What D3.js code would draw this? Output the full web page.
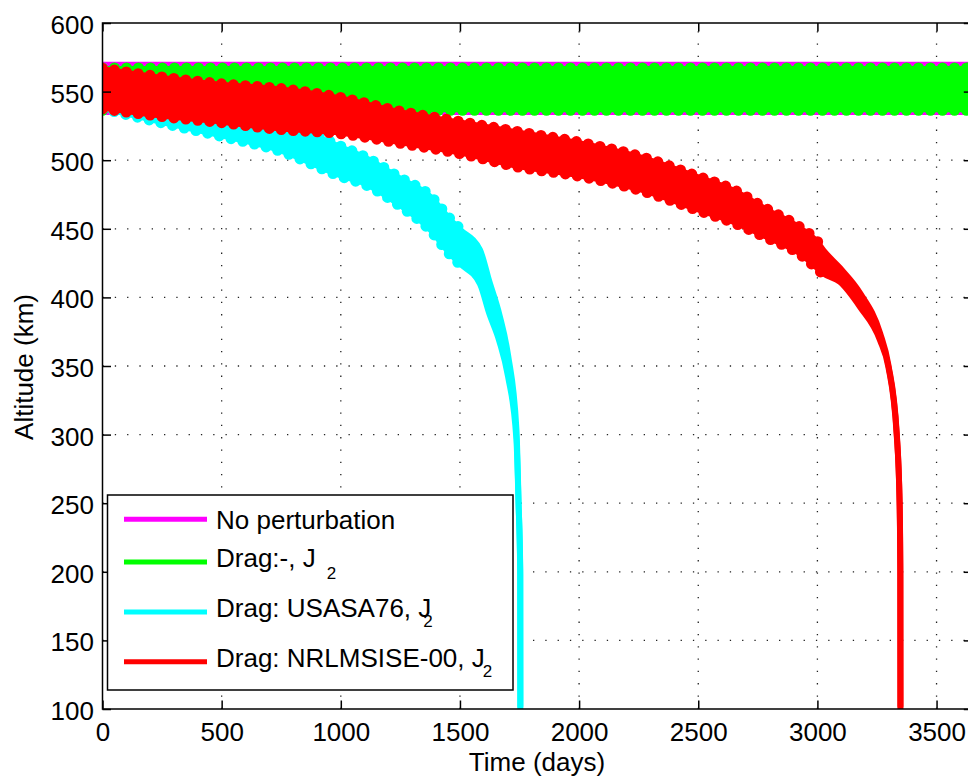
<!DOCTYPE html>
<html>
<head>
<script src="https://d3js.org/d3.v7.min.js"></script>
<style>
  body { margin: 0; background: #fff; }
  svg { display: block; font-family: "Liberation Sans", Arial, sans-serif; }
</style>
</head>
<body>
<div id="chart"></div>
<script>
// tick values
const xTicks = [0, 500, 1000, 1500, 2000, 2500, 3000, 3500];
const yTicks = [100, 150, 200, 250, 300, 350, 400, 450, 500, 550, 600];

// each run oscillates fast, so it is kept as the outer envelope (km)
const noPertT = [0, 3650];
const noPertHi = [571.8, 571.8];
const noPertLo = [533, 533];

const j2T = [0, 3650];
const j2Hi = [571.3, 571.3];
const j2Lo = [532.4, 532.4];

const usaT = [0, 250, 500, 750, 1000, 1100, 1250, 1375, 1458, 1500, 1584, 1623, 1665, 1702, 1737, 1746, 1753, 1753.5];
const usaHi = [571, 552.6, 543.9, 533, 514.2, 506.7, 491.2, 478.2, 461.5, 454.2, 436.8, 414, 390, 360, 306, 253, 200, 100];
const usaLo = [533.5, 523.1, 513.3, 502.3, 484.1, 478.3, 462.3, 444.8, 427.3, 420, 407.6, 386, 366, 340, 294, 247, 200, 100];

const nrlT = [0, 250, 500, 750, 1000, 1250, 1500, 1750, 2000, 2250, 2500, 2647, 2787, 2927, 2997, 3025, 3095, 3179, 3263, 3298, 3333, 3345, 3348, 3348.5];
const nrlHi = [571, 564.7, 559.7, 556.2, 549.7, 539.7, 532.2, 524.7, 517.2, 507.2, 492.2, 482.7, 468.6, 455.2, 445.5, 439, 423.6, 405.4, 376.2, 353, 303, 251, 199, 100];
const nrlLo = [533.5, 527.8, 523.3, 518.3, 515.3, 508.3, 500.8, 490.8, 484.3, 474.3, 459.3, 450.4, 439.4, 427.3, 417, 412.7, 409, 390.8, 366.5, 347, 297, 249, 199, 100];

const legendNames = ["No perturbation", "Drag:-, J", "Drag: USASA76, J", "Drag: NRLMSISE-00, J"];
const legendSubs = ["", "2", "2", "2"];
const colors = ["#ff00ff", "#00ff00", "#00ffff", "#ff0000"];

const W = 968, H = 778;
const margin = { left: 102.5, top: 23, right: 972.3, bottom: 709 };

const svg = d3.select("#chart").append("svg")
    .attr("width", W)
    .attr("height", H);

const x = d3.scaleLinear().domain([0, 3650]).range([margin.left, margin.right]);
const y = d3.scaleLinear().domain([100, 600]).range([margin.bottom, margin.top]);

svg.append("clipPath").attr("id", "clip")
    .append("rect")
    .attr("x", margin.left).attr("y", margin.top)
    .attr("width", margin.right - margin.left)
    .attr("height", margin.bottom - margin.top);

// dotted grid
const grid = svg.append("g").attr("stroke", "#222").attr("stroke-width", 1.3)
    .attr("stroke-dasharray", "1.3,11");
grid.selectAll("line.gx").data(xTicks.filter(d => d > 0)).enter().append("line")
    .attr("x1", d => x(d)).attr("x2", d => x(d))
    .attr("y1", margin.bottom).attr("y2", margin.top);
grid.selectAll("line.gy").data(yTicks.filter(d => d > 100 && d < 600)).enter().append("line")
    .attr("y1", d => y(d)).attr("y2", d => y(d))
    .attr("x1", margin.left).attr("x2", margin.right);

const plot = svg.append("g").attr("clip-path", "url(#clip)");

function drawSeries(T, Hi, Lo, color, scallop) {
    const pts = T.map((t, i) => ({ t: t, hi: Hi[i], lo: Lo[i] }));
    const band = d => y(d.lo) - y(d.hi);
    // local steepness of the envelope, in pixels
    pts.forEach((d, i) => {
        const a = pts[Math.max(i - 1, 0)], b = pts[Math.min(i + 1, pts.length - 1)];
        const dx = Math.max(x(b.t) - x(a.t), 0.001);
        d.steep = Math.max(Math.abs(y(b.hi) - y(a.hi)), Math.abs(y(b.lo) - y(a.lo))) / dx;
        d.sc = scallop && band(d) > 28 && d.steep < 1.5;
    });
    const r = 5.5, inset = d => d.sc ? 3.5 : 0;
    const top = d => y(d.hi) + inset(d) + 3;
    const bot = d => y(d.lo) - inset(d) - 3;
    const g = plot.append("g");

    g.append("path").datum(pts)
        .attr("fill", color)
        .attr("d", d3.area().curve(d3.curveMonotoneX).x(d => x(d.t)).y0(bot).y1(top));

    [top, bot].forEach(f => {
        g.append("path").datum(pts)
            .attr("fill", "none")
            .attr("stroke", color)
            .attr("stroke-width", 6)
            .attr("stroke-linejoin", "round")
            .attr("stroke-linecap", "round")
            .attr("d", d3.line().curve(d3.curveMonotoneX).x(d => x(d.t)).y(f));
    });

    if (!scallop) return;
    // the bumpy edges left by the thick oscillating line
    [d => y(d.hi) + r, d => y(d.lo) - r].forEach(f => {
        g.append("path").datum(pts)
            .attr("fill", "none")
            .attr("stroke", color)
            .attr("stroke-width", 2 * r)
            .attr("stroke-linecap", "round")
            .attr("stroke-dasharray", "0,12")
            .attr("d", d3.line().defined(d => d.sc).curve(d3.curveMonotoneX)
                .x(d => x(d.t)).y(f));
    });
}

drawSeries(noPertT, noPertHi, noPertLo, colors[0], false);
drawSeries(j2T, j2Hi, j2Lo, colors[1], true);
drawSeries(usaT, usaHi, usaLo, colors[2], true);
drawSeries(nrlT, nrlHi, nrlLo, colors[3], true);

// axes, ticks pointing inwards
const tickLen = 8.5;
const fmt = d3.format("d");
const xAxis = svg.append("g")
    .attr("transform", `translate(0,${margin.bottom})`)
    .call(d3.axisBottom(x).tickValues(xTicks).tickFormat(fmt)
        .tickSizeInner(-tickLen).tickSizeOuter(0).tickPadding(14));
const yAxis = svg.append("g")
    .attr("transform", `translate(${margin.left},0)`)
    .call(d3.axisLeft(y).tickValues(yTicks).tickFormat(fmt)
        .tickSizeInner(-tickLen).tickSizeOuter(0).tickPadding(8.5));
const xTop = svg.append("g")
    .attr("transform", `translate(0,${margin.top})`)
    .call(d3.axisTop(x).tickValues(xTicks).tickSizeInner(-tickLen).tickSizeOuter(0).tickFormat(""));
const yRight = svg.append("g")
    .attr("transform", `translate(${margin.right},0)`)
    .call(d3.axisRight(y).tickValues(yTicks).tickSizeInner(-tickLen).tickSizeOuter(0).tickFormat(""));

[xAxis, yAxis, xTop, yRight].forEach(a => {
    a.select(".domain").remove();
    a.selectAll(".tick line").attr("stroke", "#000").attr("stroke-width", 1.5);
    a.selectAll("text").attr("fill", "#000").style("font-size", "26px")
        .style("font-family", "'Liberation Sans', Arial, sans-serif");
});
yAxis.selectAll("text").attr("dy", "0.4em");

svg.append("rect")
    .attr("x", margin.left).attr("y", margin.top)
    .attr("width", margin.right - margin.left)
    .attr("height", margin.bottom - margin.top)
    .attr("fill", "none").attr("stroke", "#000").attr("stroke-width", 1.5);

// axis titles
svg.append("text")
    .attr("x", 537).attr("y", 771)
    .attr("text-anchor", "middle")
    .style("font-size", "26px")
    .text("Time (days)");

svg.append("text")
    .attr("transform", "translate(33,367) rotate(-90)")
    .attr("text-anchor", "middle")
    .style("font-size", "26px")
    .text("Altitude (km)");

// legend
const legend = svg.append("g");
legend.append("rect")
    .attr("x", 107.5).attr("y", 495)
    .attr("width", 405.5).attr("height", 195)
    .attr("fill", "#fff").attr("stroke", "#000").attr("stroke-width", 1.5);

const rowLine = [519.3, 562, 612, 661.7];
const rowBase = [528.7, 567.3, 617.3, 666.7];
const subDrop = [0, 12, 9.5, 10];
const subShift = [0, 11, -8, -2];

legendNames.forEach((name, i) => {
    legend.append("line")
        .attr("x1", 124).attr("x2", 207)
        .attr("y1", rowLine[i]).attr("y2", rowLine[i])
        .attr("stroke", colors[i]).attr("stroke-width", 5);
    const t = legend.append("text")
        .attr("x", 216).attr("y", rowBase[i])
        .style("font-size", "26px")
        .text(name);
    if (legendSubs[i]) {
        const len = t.node().getComputedTextLength();
        legend.append("text")
            .attr("x", 216 + len + subShift[i])
            .attr("y", rowBase[i] + subDrop[i])
            .style("font-size", "17px")
            .text(legendSubs[i]);
    }
});
</script>
</body>
</html>
